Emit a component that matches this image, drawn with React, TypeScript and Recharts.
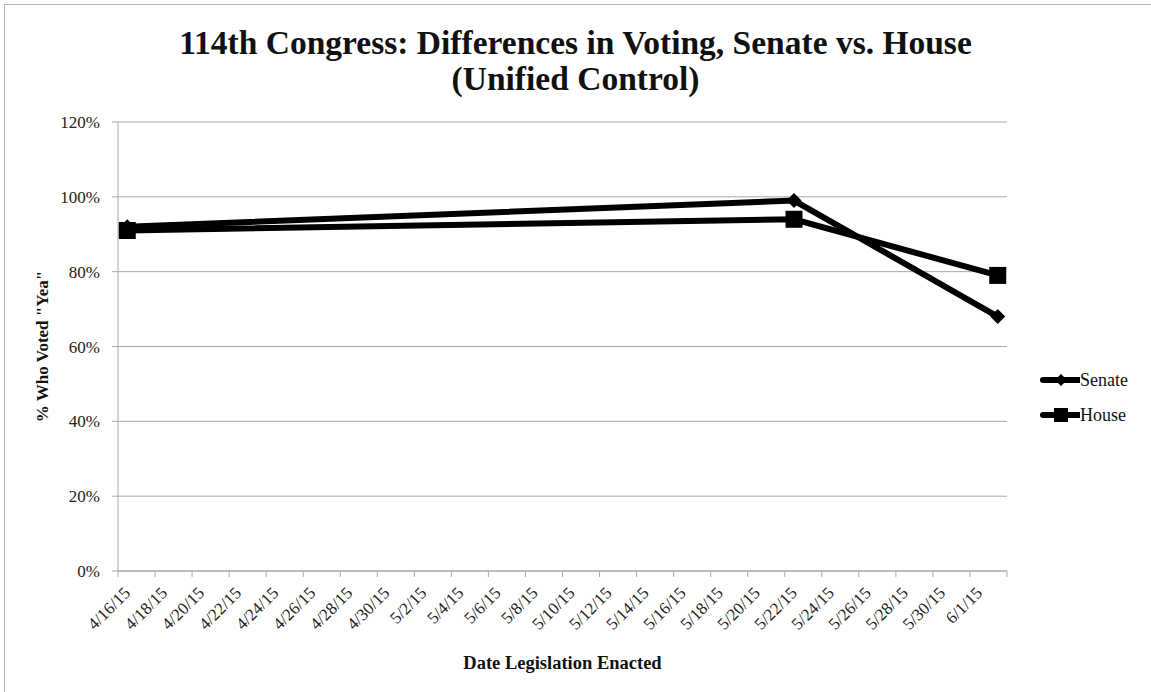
import React from 'react';
import {
  LineChart,
  Line,
  XAxis,
  YAxis,
  CartesianGrid,
} from 'recharts';

// dates of enactment and the share voting "Yea" in each chamber
const VOTE_DATES = ['2015-04-16', '2015-05-22', '2015-06-02'];
const SENATE = [0.92, 0.99, 0.68];
const HOUSE = [0.91, 0.94, 0.79];

const TICK_LABELS = [
  '4/16/15', '4/18/15', '4/20/15', '4/22/15', '4/24/15', '4/26/15',
  '4/28/15', '4/30/15', '5/2/15', '5/4/15', '5/6/15', '5/8/15',
  '5/10/15', '5/12/15', '5/14/15', '5/16/15', '5/18/15', '5/20/15',
  '5/22/15', '5/24/15', '5/26/15', '5/28/15', '5/30/15', '6/1/15',
];
const Y_TICKS = [0, 0.2, 0.4, 0.6, 0.8, 1.0, 1.2];

const START = Date.UTC(2015, 3, 16);
const DAY = 86400000;
const DAYS_SHOWN = 48;

const dayOf = (iso: string) => {
  const [y, m, d] = iso.split('-').map(Number);
  return Math.round((Date.UTC(y, m - 1, d) - START) / DAY);
};

// Excel date axis: a point sits in the middle of its day slot
const data = VOTE_DATES.map((d, i) => ({
  day: dayOf(d) + 0.5,
  senate: SENATE[i],
  house: HOUSE[i],
}));

const xTicks = Array.from({ length: DAYS_SHOWN / 2 + 1 }, (_, i) => i * 2);

const W = 1151;
const H = 692;
const MARGIN = { top: 122, right: 144, bottom: 0, left: 20 };
const Y_WIDTH = 98;
const PLOT_W = W - MARGIN.left - Y_WIDTH - MARGIN.right;
const DAY_PX = PLOT_W / DAYS_SHOWN;

const FONT = '"Liberation Serif", "DejaVu Serif", serif';

const DateTick = (props: any) => {
  const { x, y, payload } = props;
  const label = TICK_LABELS[payload.value / 2];
  if (!label) return null;
  return (
    <g transform={`translate(${x + DAY_PX / 2 + 4},${y + 15})`}>
      <text
        transform="rotate(-45)"
        textAnchor="end"
        fontSize={17}
        fontFamily={FONT}
        fill="#222"
      >
        {label}
      </text>
    </g>
  );
};

const Diamond = (props: any) => {
  const { cx, cy } = props;
  if (cx == null || cy == null) return null;
  const r = 7.5;
  return (
    <path
      d={`M${cx},${cy - r} L${cx + r},${cy} L${cx},${cy + r} L${cx - r},${cy} Z`}
      fill="#000"
    />
  );
};

const Square = (props: any) => {
  const { cx, cy } = props;
  if (cx == null || cy == null) return null;
  const r = 8.5;
  return <rect x={cx - r} y={cy - r} width={r * 2} height={r * 2} fill="#000" />;
};

const LegendItem = ({ label, marker }: { label: string; marker: 'diamond' | 'square' }) => (
  <div style={{ display: 'flex', alignItems: 'center', height: 20 }}>
    <svg width={40} height={20}>
      <line x1={3} y1={10} x2={39} y2={10} stroke="#000" strokeWidth={6} strokeLinecap="round" />
      {marker === 'diamond' ? (
        <path d="M21,4 L27,10 L21,16 L15,10 Z" fill="#000" />
      ) : (
        <rect x={14} y={3} width={14} height={14} fill="#000" />
      )}
    </svg>
    <span style={{ fontSize: 18, fontFamily: FONT, color: '#111' }}>{label}</span>
  </div>
);

export default function App() {
  return (
    <div
      style={{
        position: 'fixed',
        left: 0,
        top: 0,
        width: W,
        height: H,
        background: '#fff',
        overflow: 'hidden',
      }}
    >
      <div
        style={{
          position: 'absolute',
          left: 4,
          top: 4,
          width: W,
          height: H,
          border: '1px solid #b5b5b5',
          boxSizing: 'border-box',
        }}
      />
      <div
        style={{
          position: 'absolute',
          left: 0,
          top: 25,
          width: W,
          textAlign: 'center',
          fontFamily: FONT,
          fontWeight: 'bold',
          fontSize: 33.5,
          lineHeight: '36px',
          color: '#111',
        }}
      >
        114th Congress: Differences in Voting, Senate vs. House
        <br />
        (Unified Control)
      </div>
      <LineChart
        width={W}
        height={H}
        data={data}
        margin={MARGIN}
        style={{ position: 'absolute', left: 0, top: 0 }}
      >
        <CartesianGrid vertical={false} stroke="#a8a8a8" strokeWidth={1} />
        <XAxis
          dataKey="day"
          type="number"
          domain={[0, DAYS_SHOWN]}
          ticks={xTicks}
          interval={0}
          tick={<DateTick />}
          tickSize={6}
          height={121}
          stroke="#a8a8a8"
          label={{
            value: 'Date Legislation Enacted',
            position: 'insideBottom',
            offset: 23,
            style: { fontFamily: FONT, fontWeight: 'bold', fontSize: 18.5, fill: '#111' },
          }}
        />
        <YAxis
          type="number"
          domain={[0, 1.2]}
          ticks={Y_TICKS}
          interval={0}
          width={Y_WIDTH}
          tickSize={6}
          tickMargin={12}
          stroke="#a8a8a8"
          tickFormatter={(v: number) => `${Math.round(v * 100)}%`}
          tick={{ fontFamily: FONT, fontSize: 17, fill: '#222' }}
          label={{
            value: '% Who Voted "Yea"',
            angle: -90,
            position: 'insideLeft',
            offset: 22,
            style: {
              textAnchor: 'middle',
              fontFamily: FONT,
              fontWeight: 'bold',
              fontSize: 17,
              fill: '#111',
            },
          }}
        />
        <Line
          dataKey="house"
          stroke="#000"
          strokeWidth={6}
          dot={<Square />}
          activeDot={false}
          isAnimationActive={false}
        />
        <Line
          dataKey="senate"
          stroke="#000"
          strokeWidth={6}
          dot={<Diamond />}
          activeDot={false}
          isAnimationActive={false}
        />
      </LineChart>
      <div style={{ position: 'absolute', left: 1040, top: 370 }}>
        <LegendItem label="Senate" marker="diamond" />
        <div style={{ height: 15 }} />
        <LegendItem label="House" marker="square" />
      </div>
    </div>
  );
}
